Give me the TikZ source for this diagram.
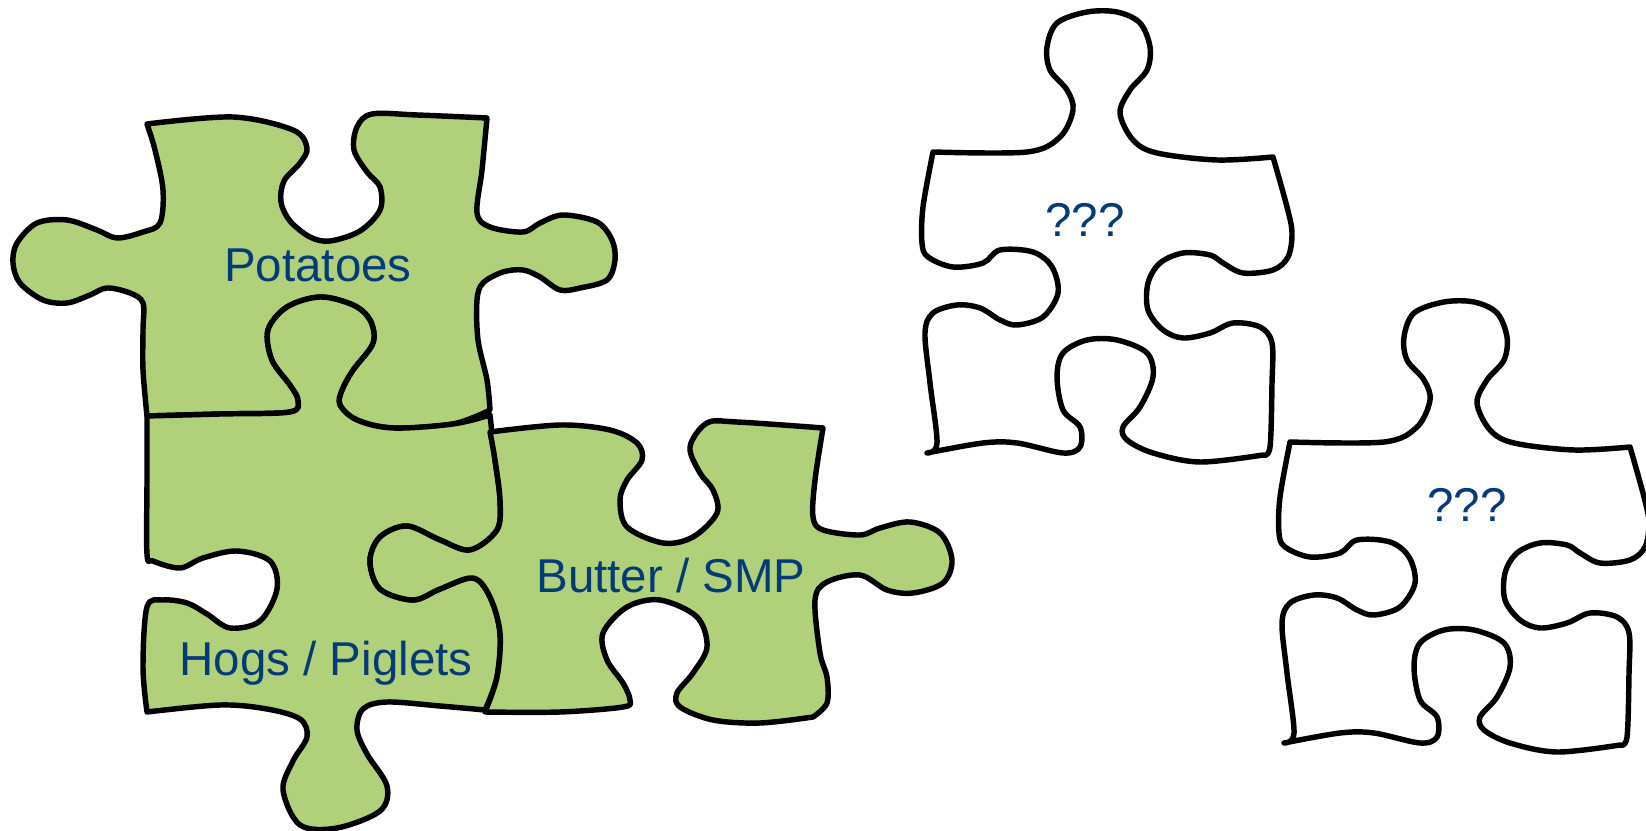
\documentclass[tikz,border=0pt]{standalone}
\usepackage{fontspec}
\setmainfont{Liberation Sans}
\usepackage{tikz}
\definecolor{piecegreen}{RGB}{176,209,122}
\definecolor{labelblue}{RGB}{4,58,120}

\begin{document}
\begin{tikzpicture}[x=0.01cm,y=-0.01cm,
    piece/.style={draw=black,line width=1.55pt,line join=round,fill=piecegreen},
    blank/.style={piece,fill=white},
    label/.style={text=labelblue,anchor=base,font=\fontsize{13.5}{16}\selectfont}]
% \clip (0,0) rectangle (1646,831);
\useasboundingbox (0,0) rectangle (1646,831);

% Drawing piece Potatoes
\draw [piece] (147,124)
  -- plot [smooth,tension=.55] coordinates {(147,124) (233,117) (293,130) (307,148) (300,163) (284,181) (281,202) (290,221) (310,237) (330,241) (360,231) (380,210) (380,187) (367,172) (354,150) (357,127) (372,114) (417,115) (487,118)}
  -- plot [smooth,tension=.55] coordinates {(487,118) (482,170) (477,213) (490,227) (523,232) (540,223) (563,215) (597,222) (612,240) (615,260) (607,280) (580,288) (560,290) (540,277) (523,270) (503,272) (483,283) (477,300) (478,340) (487,380) (490,410)}
  -- plot [smooth,tension=.55] coordinates {(490,410) (453,424) (393,428) (357,420) (340,405) (342,390) (353,370) (373,343) (370,320) (353,305) (320,297) (287,307) (268,330) (272,360) (290,385) (298,400) (290,412) (220,414) (147,416)}
  -- plot [smooth,tension=.55] coordinates {(147,416) (143,370) (143,330) (143,303) (130,293) (107,288) (90,295) (67,303) (43,300) (20,283) (13,263) (17,243) (37,223) (67,220) (97,230) (117,238) (143,232) (160,223) (163,190) (155,150) (147,124)}
  -- cycle;

% Drawing piece Hogs / Piglets
\draw [piece] (147,416)
  -- plot [smooth,tension=.55] coordinates {(147,416) (220,414) (290,412) (298,400) (290,385) (272,360) (268,330) (287,307) (320,297) (353,305) (370,320) (373,343) (353,370) (342,390) (340,405) (357,420) (393,428) (453,424) (490,415)}
  -- plot [smooth,tension=.55] coordinates {(490,415) (495,460) (500,500) (497,530) (470,550) (440,540) (407,526) (380,537) (370,561) (380,589) (413,600) (440,589) (473,578) (490,597) (500,633) (497,677) (485,710)}
  -- plot [smooth,tension=.55] coordinates {(485,710) (440,706) (387,702) (363,709) (357,730) (367,754) (387,786) (380,811) (337,828) (300,825) (283,790) (293,761) (307,737) (300,719) (267,709) (220,705) (147,712)}
  -- plot [smooth,tension=.55] coordinates {(147,712) (143,667) (147,607) (163,600) (187,603) (207,614) (230,628) (260,621) (277,589) (270,561) (237,551) (203,558) (180,568) (153,561) (147,554) (147,480) (147,416)}
  -- cycle;

% Drawing piece Butter / SMP
\draw [piece] (490,432)
  -- plot [smooth,tension=.55] coordinates {(490,432) (560,425) (610,430) (637,443) (642,460) (627,480) (620,500) (627,527) (663,543) (693,537) (717,513) (713,490) (700,473) (690,447) (707,423) (737,422) (823,428)}
  -- plot [smooth,tension=.55] coordinates {(823,428) (815,480) (813,517) (823,530) (860,535) (880,528) (910,522) (940,533) (952,560) (943,583) (913,593) (887,590) (860,575) (827,582) (815,600) (820,653) (827,677) (827,703) (813,717)}
  -- plot [smooth,tension=.55] coordinates {(813,717) (760,723) (713,720) (680,707) (677,693) (693,673) (707,647) (697,617) (660,600) (627,607) (603,633) (607,660) (623,683) (630,700) (623,707) (560,712) (485,712)}
  -- plot [smooth,tension=.55] coordinates {(485,712) (497,677) (500,633) (490,597) (473,578) (440,589) (413,600) (380,589) (370,561) (380,537) (407,526) (440,540) (470,550) (497,530) (500,500) (495,460) (490,432)}
  -- cycle;

% Drawing the two empty pieces
\foreach \dx/\dy in {0/0,357/290}{
\begin{scope}[shift={(\dx,\dy)}]
\draw [blank] (933,152)
  -- plot [smooth,tension=.55] coordinates {(933,152) (1027,152) (1060,137) (1073,110) (1067,90) (1050,70) (1047,47) (1057,23) (1087,12) (1117,12) (1140,23) (1150,47) (1147,70) (1130,90) (1120,113) (1133,140) (1157,153) (1217,160) (1273,157)}
  -- plot [smooth,tension=.55] coordinates {(1273,157) (1287,207) (1292,233) (1288,257) (1273,270) (1243,273) (1223,263) (1210,255) (1183,253) (1160,263) (1148,283) (1148,310) (1163,330) (1183,338) (1210,333) (1233,323) (1260,327) (1272,343) (1272,383) (1270,447) (1263,455)}
  -- plot [smooth,tension=.55] coordinates {(1263,455) (1200,462) (1153,453) (1127,440) (1123,427) (1140,407) (1153,377) (1147,353) (1117,340) (1087,340) (1063,353) (1057,377) (1063,410) (1080,427) (1080,447) (1063,453) (1017,443) (983,443) (927,453)}
  -- plot [smooth,tension=.55] coordinates {(927,453) (937,443) (930,383) (925,333) (933,313) (957,305) (980,308) (1000,320) (1017,325) (1043,317) (1058,293) (1052,267) (1033,252) (1000,250) (983,263) (953,267) (928,257) (922,243) (923,207) (933,152)}
  -- cycle;
\end{scope}
}

% Labels
\node [label] (potatoes) at (318,282) {Potatoes};
\node [label] (hogs) at (326,675) {Hogs / Piglets};
\node [label] (butter) at (671,592) {Butter / SMP};
\node [label] (blankA) at (1085,237) {???};
\node [label] (blankB) at (1467,522) {???};
\end{tikzpicture}
\end{document}
